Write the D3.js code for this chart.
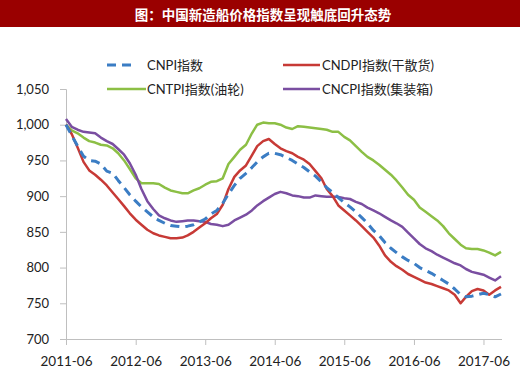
<!DOCTYPE html>
<html>
<head>
<meta charset="utf-8">
<script src="https://cdn.jsdelivr.net/npm/d3@7"></script>
<style>
  body { margin: 0; background: #fff; }
  svg { display: block; }
</style>
</head>
<body>
<div id="chart"></div>
<script>
// monthly index values, 2011-06 .. 2017-09
const startMonth = "2011-06";
const cnpi = [1000, 985, 970, 956, 950, 949, 945, 935, 932, 922, 912, 902, 893, 885, 878, 871, 866, 862, 859, 858,
  857, 858, 860, 864, 868, 875, 880, 890, 903, 915, 925, 932, 940, 948, 955, 960, 960, 958, 954, 950,
  945, 940, 934, 928, 920, 912, 905, 898, 891, 885, 878, 870, 862, 852, 845, 835, 827, 821, 815, 810,
  806, 800, 796, 792, 787, 782, 777, 770, 762, 759, 760, 762, 764, 762, 759, 763];
const cndpi = [1000, 987, 968, 948, 936, 930, 923, 915, 905, 896, 886, 876, 867, 860, 853, 848, 845, 843, 841, 841,
  842, 845, 850, 856, 862, 869, 875, 888, 910, 927, 936, 943, 957, 970, 977, 980, 973, 967, 963, 960,
  955, 951, 945, 935, 925, 910, 900, 887, 880, 873, 866, 858, 850, 842, 831, 817, 808, 802, 797, 791,
  787, 783, 779, 777, 774, 771, 768, 762, 750, 759, 767, 770, 768, 762, 768, 773];
const cntpi = [1000, 992, 988, 982, 977, 975, 972, 971, 967, 960, 950, 938, 925, 918, 918, 918, 917, 912, 908, 906,
  904, 904, 908, 911, 916, 920, 921, 925, 945, 955, 965, 972, 988, 1000, 1003, 1002, 1002, 1000, 996, 994,
  998, 997, 996, 995, 994, 993, 990, 990, 983, 978, 970, 962, 955, 950, 944, 937, 930, 922, 912, 902,
  895, 884, 878, 872, 866, 858, 848, 840, 832, 827, 826, 826, 824, 821, 817, 822];
const cncpi = [1008, 997, 993, 990, 989, 988, 982, 977, 973, 966, 958, 946, 930, 910, 893, 882, 873, 869, 866, 864,
  865, 866, 866, 865, 864, 861, 860, 858, 860, 866, 870, 874, 880, 887, 893, 898, 903, 906, 904, 901,
  900, 898, 898, 901, 900, 899, 899, 899, 897, 896, 892, 889, 884, 880, 876, 871, 866, 862, 857, 849,
  841, 833, 827, 823, 818, 814, 810, 806, 803, 798, 794, 792, 790, 786, 782, 788];

const seriesNames = ["CNPI指数", "CNDPI指数(干散货)", "CNTPI指数(油轮)", "CNCPI指数(集装箱)"];
const xTickLabels = ["2011-06", "2012-06", "2013-06", "2014-06", "2015-06", "2016-06", "2017-06"];
const yTicks = [700, 750, 800, 850, 900, 950, 1000, 1050];
const title = "图：中国新造船价格指数呈现触底回升态势";

function chart() {
    const width = 520,
        height = 379;
    const font = "Lato, 'Noto Sans CJK SC', sans-serif";

    const svg = d3.select("#chart").append("svg")
        .attr("width", width)
        .attr("height", height)
        .style("font-family", font);

    // title bar
    svg.append("rect")
        .attr("x", 0).attr("y", 0)
        .attr("width", width).attr("height", 27)
        .attr("fill", "#9a0000");
    svg.append("text")
        .attr("x", 263).attr("y", 14)
        .attr("text-anchor", "middle")
        .attr("dominant-baseline", "central")
        .attr("fill", "#fff")
        .style("font-family", "'Noto Sans CJK SC', sans-serif")
        .style("font-weight", "bold")
        .style("font-size", "13.5px")
        .text(title);

    const parse = d3.timeParse("%Y-%m");
    const t0 = parse(startMonth);
    const dates = cnpi.map((d, i) => d3.timeMonth.offset(t0, i));

    const x = d3.scaleTime()
        .domain([dates[0], dates[dates.length - 1]])
        .range([66, 501]);
    const y = d3.scaleLinear()
        .domain([700, 1050])
        .range([339, 89]);

    const axisColor = "#bfbfbf";
    const textColor = "#222";

    // y axis
    const yAxis = svg.append("g")
        .attr("transform", "translate(66,0)")
        .call(d3.axisLeft(y).tickValues(yTicks).tickSize(6).tickPadding(11)
            .tickFormat(d3.format(",")));
    yAxis.select(".domain").attr("stroke", axisColor);
    yAxis.selectAll(".tick line").attr("stroke", axisColor);
    yAxis.selectAll("text")
        .attr("fill", textColor)
        .style("font-size", "13px")
        .style("font-family", font);

    // x axis
    const xAxis = svg.append("g")
        .attr("transform", "translate(0,339)")
        .call(d3.axisBottom(x).tickValues(xTickLabels.map(parse)).tickSize(6).tickPadding(11)
            .tickFormat(d3.timeFormat("%Y-%m")).tickSizeOuter(0));
    xAxis.select(".domain").attr("stroke", axisColor).attr("d", "M66,0.5H502");
    xAxis.selectAll(".tick line").attr("stroke", axisColor);
    xAxis.selectAll("text")
        .attr("fill", textColor)
        .style("font-size", "13.5px")
        .style("font-family", font);

    const series = [
        {name: seriesNames[0], values: cnpi, color: "#3b7dc4", dash: "9,6"},
        {name: seriesNames[1], values: cndpi, color: "#c73a36", dash: null},
        {name: seriesNames[2], values: cntpi, color: "#8cbf45", dash: null},
        {name: seriesNames[3], values: cncpi, color: "#7a4ea1", dash: null}
    ];

    const line = d3.line()
        .x((d, i) => x(dates[i]))
        .y(d => y(d));

    // draw order: green, purple, red, blue on top
    [2, 3, 1, 0].forEach(k => {
        const s = series[k];
        svg.append("path")
            .datum(s.values)
            .attr("fill", "none")
            .attr("stroke", s.color)
            .attr("stroke-width", s.dash ? 3 : 2.5)
            .attr("stroke-dasharray", s.dash)
            .attr("stroke-linejoin", "round")
            .attr("d", line);
    });

    // legend
    const legendPos = [
        {x1: 107, x2: 137, tx: 147, ty: 65},
        {x1: 283, x2: 320, tx: 322, ty: 65},
        {x1: 107, x2: 146, tx: 147, ty: 89},
        {x1: 283, x2: 320, tx: 322, ty: 89}
    ];
    const legend = svg.append("g");
    series.forEach((s, i) => {
        const p = legendPos[i];
        legend.append("line")
            .attr("x1", p.x1).attr("x2", p.x2)
            .attr("y1", p.ty).attr("y2", p.ty)
            .attr("stroke", s.color)
            .attr("stroke-width", s.dash ? 3 : 2.5)
            .attr("stroke-dasharray", s.dash);
        legend.append("text")
            .attr("x", p.tx).attr("y", p.ty)
            .attr("dominant-baseline", "central")
            .attr("fill", textColor)
            .style("font-size", "13px")
            .text(s.name);
    });
}

window.onload = function() {
    chart();
};
</script>
</body>
</html>
